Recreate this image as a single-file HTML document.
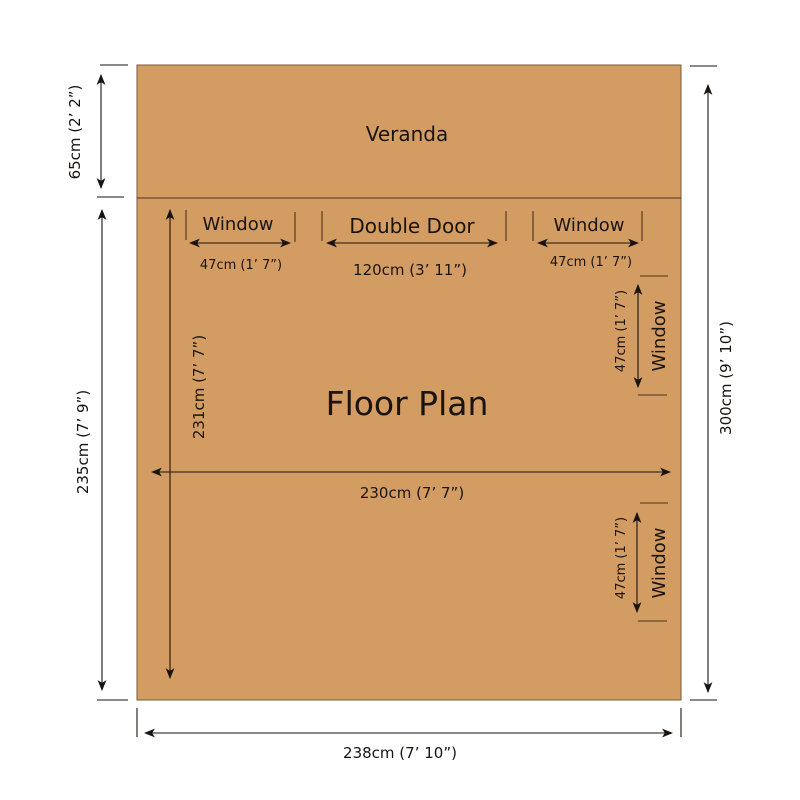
<!DOCTYPE html>
<html><head><meta charset="utf-8"><style>html,body{margin:0;padding:0;background:#fff}svg{display:block}text{font-family:"DejaVu Sans","Liberation Sans",sans-serif;fill:#1a1410}</style></head><body>
<svg width="800" height="800" viewBox="0 0 800 800" xmlns="http://www.w3.org/2000/svg">
<defs>
<marker id="a" viewBox="0 0 10 10" refX="9" refY="5" markerWidth="11" markerHeight="11" orient="auto-start-reverse" markerUnits="userSpaceOnUse"><path d="M0,1 L10,5 L0,9 L2.5,5 Z" fill="#1a1410"/></marker>
</defs>
<rect x="137" y="65" width="544" height="635" fill="#D39C62" stroke="#7a5a3a" stroke-width="1"/>
<line x1="137" y1="198" x2="681" y2="198" stroke="#6a4a30" stroke-width="1.2"/>
<g stroke="#1a1410" stroke-width="1.1" fill="none">
<line x1="100" y1="65" x2="128" y2="65"/>
<line x1="97" y1="197" x2="124" y2="197"/>
<line x1="97" y1="700" x2="128" y2="700"/>
<line x1="101" y1="75" x2="101" y2="188" marker-start="url(#a)" marker-end="url(#a)"/>
<line x1="102" y1="210" x2="102" y2="690" marker-start="url(#a)" marker-end="url(#a)"/>
<line x1="690" y1="66" x2="717" y2="66"/>
<line x1="690" y1="700" x2="717" y2="700"/>
<line x1="708" y1="85" x2="708" y2="692" marker-start="url(#a)" marker-end="url(#a)"/>
<line x1="137" y1="708" x2="137" y2="737"/>
<line x1="681" y1="708" x2="681" y2="737"/>
<line x1="145" y1="733" x2="672" y2="733" marker-start="url(#a)" marker-end="url(#a)"/>
<g stroke="#4a3420">
<line x1="186" y1="210" x2="186" y2="240"/><line x1="295" y1="212" x2="295" y2="242"/>
<line x1="322" y1="211" x2="322" y2="241"/><line x1="506" y1="211" x2="506" y2="241"/>
<line x1="533" y1="211" x2="533" y2="241"/><line x1="642" y1="211" x2="642" y2="241"/>
<line x1="640" y1="276" x2="668" y2="276"/><line x1="638" y1="395" x2="667" y2="395"/>
<line x1="640" y1="503" x2="668" y2="503"/><line x1="638" y1="621" x2="667" y2="621"/>
</g>
<line x1="190" y1="243" x2="290" y2="243" marker-start="url(#a)" marker-end="url(#a)"/>
<line x1="327" y1="243" x2="497" y2="243" marker-start="url(#a)" marker-end="url(#a)"/>
<line x1="538" y1="243" x2="638" y2="243" marker-start="url(#a)" marker-end="url(#a)"/>
<line x1="638" y1="285" x2="638" y2="387" marker-start="url(#a)" marker-end="url(#a)"/>
<line x1="637" y1="513" x2="637" y2="612" marker-start="url(#a)" marker-end="url(#a)"/>
<line x1="170" y1="210" x2="170" y2="678" marker-start="url(#a)" marker-end="url(#a)"/>
<line x1="152" y1="472" x2="670" y2="472" marker-start="url(#a)" marker-end="url(#a)"/>
</g>
<g text-anchor="middle">
<text x="407" y="141" font-size="20">Veranda</text>
<text x="238" y="230" font-size="18">Window</text>
<text x="241" y="269" font-size="13">47cm (1’ 7”)</text>
<text x="412" y="233" font-size="20">Double Door</text>
<text x="410" y="275" font-size="15">120cm (3’ 11”)</text>
<text x="589" y="231" font-size="18">Window</text>
<text x="591" y="266" font-size="13">47cm (1’ 7”)</text>
<text x="407" y="415" font-size="33">Floor Plan</text>
<text x="412" y="498" font-size="15">230cm (7’ 7”)</text>
<text x="400" y="758" font-size="15">238cm (7’ 10”)</text>
<text transform="translate(80,132) rotate(-90)" font-size="15">65cm (2’ 2”)</text>
<text transform="translate(88,442) rotate(-90)" font-size="15">235cm (7’ 9”)</text>
<text transform="translate(731,378) rotate(-90)" font-size="15">300cm (9’ 10”)</text>
<text transform="translate(204,387) rotate(-90)" font-size="15">231cm (7’ 7”)</text>
<text transform="translate(625,331) rotate(-90)" font-size="13">47cm (1’ 7”)</text>
<text transform="translate(665,336) rotate(-90)" font-size="18">Window</text>
<text transform="translate(625,558) rotate(-90)" font-size="13">47cm (1’ 7”)</text>
<text transform="translate(665,563) rotate(-90)" font-size="18">Window</text>
</g>
</svg>
</body></html>
